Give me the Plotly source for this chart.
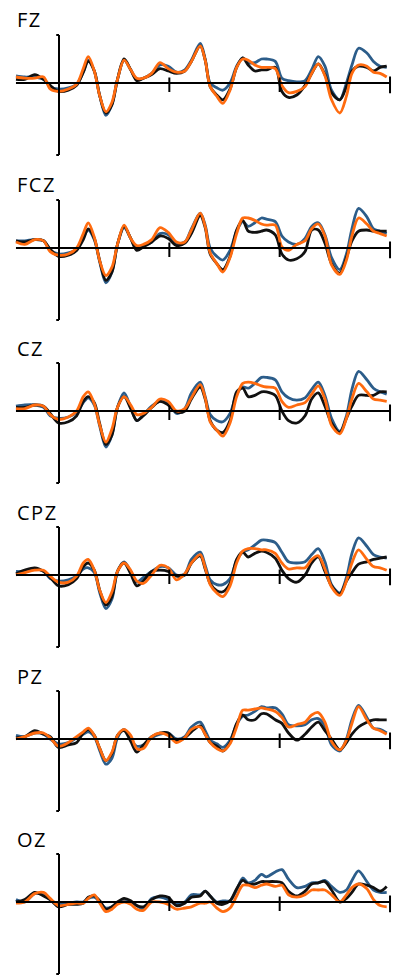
import plotly.graph_objects as go

# time points (ms)
time_ms = [-78, -62, -44, -28, -16, -1, 17, 32, 44, 53, 64, 74, 85, 96, 106, 118, 130, 141, 153, 168,
           183, 198, 213, 228, 240, 256, 265, 274, 286, 297, 310, 322, 333, 343, 355, 367, 376, 392, 404, 416,
           431, 446, 458, 470, 482, 494, 509, 521, 531, 543, 558, 570, 582, 594]

channels = ["FZ", "FCZ", "CZ", "CPZ", "PZ", "OZ"]

FZ_blue = [0.6, 0.5, 0.5, 0.3, -0.3, -0.5, -0.4, -0.1, 0.9, 1.9, 1.0, -1.1, -2.7, -1.8, 0.3, 1.9, 1.1, 0.3, 0.4, 0.8,
           1.5, 1.4, 0.9, 1.1, 1.9, 3.3, 2.0, 0.0, -0.4, -0.6, 0.0, 1.4, 2.1, 1.7, 1.7, 2.0, 2.0, 1.8, 0.4, 0.2,
           0.1, 0.2, 1.1, 2.2, 1.4, -0.6, -1.4, 0.0, 1.5, 2.9, 2.5, 1.8, 1.4, 1.3]
FZ_black = [0.3, 0.3, 0.7, 0.3, -0.2, -0.7, -0.6, -0.2, 0.9, 1.8, 1.0, -1.1, -2.5, -1.8, 0.3, 2.0, 1.1, 0.2, 0.4, 0.7,
            1.2, 1.0, 0.8, 1.0, 1.8, 3.1, 1.9, -0.3, -1.0, -1.4, -0.5, 1.3, 2.1, 1.5, 1.0, 1.1, 1.1, 1.3, -0.7, -1.2,
            -1.0, -0.2, 0.8, 1.6, 0.7, -0.8, -1.4, -0.3, 1.0, 1.4, 1.3, 1.0, 1.3, 1.4]
FZ_orange = [0.5, 0.4, 0.4, 0.5, -0.5, -0.7, -0.5, -0.1, 1.2, 2.2, 1.0, -1.1, -2.4, -1.6, 0.3, 1.9, 1.1, 0.4, 0.4, 0.8,
             1.7, 1.2, 0.9, 1.0, 1.8, 3.1, 1.9, -0.3, -1.1, -1.7, -0.6, 1.3, 2.0, 1.9, 1.5, 1.3, 1.3, 1.2, -0.2, -0.8,
             -0.7, -0.3, 0.8, 1.6, 0.6, -1.4, -2.5, -1.1, 0.8, 1.5, 1.4, 0.9, 0.8, 0.5]

FCZ_blue = [0.6, 0.6, 0.7, 0.6, -0.2, -0.5, -0.4, -0.1, 0.9, 1.5, 0.7, -1.2, -2.9, -2.0, 0.3, 1.7, 0.8, -0.1, 0.2, 0.5,
            1.2, 1.1, 0.4, 0.5, 1.6, 2.9, 1.9, 0.0, -0.7, -1.0, -0.2, 1.4, 2.2, 1.8, 2.1, 2.5, 2.4, 2.2, 1.0, 0.5,
            0.3, 0.8, 1.8, 2.1, 1.1, -0.8, -1.8, -0.5, 1.6, 3.3, 2.6, 1.6, 1.4, 1.2]
FCZ_black = [0.6, 0.5, 0.7, 0.6, -0.1, -0.7, -0.6, -0.2, 0.7, 1.6, 0.8, -1.1, -2.7, -2.0, 0.3, 1.8, 0.8, -0.2, 0.1, 0.5,
             1.0, 0.8, 0.2, 0.4, 1.2, 2.7, 1.7, -0.5, -1.3, -1.8, -0.7, 1.5, 2.3, 1.4, 1.3, 1.4, 1.5, 1.1, -0.5, -1.0,
             -0.9, -0.3, 1.5, 1.5, 0.4, -1.3, -2.1, -0.8, 0.6, 1.4, 1.5, 1.4, 1.4, 1.4]
FCZ_orange = [0.5, 0.3, 0.7, 0.6, -0.3, -0.6, -0.5, 0.0, 1.2, 2.1, 0.9, -1.1, -2.3, -1.6, 0.3, 1.9, 0.8, 0.2, 0.3, 0.7,
              1.7, 1.3, 0.5, 0.5, 1.5, 2.9, 1.8, -0.4, -1.3, -2.0, -0.8, 1.2, 2.5, 2.5, 2.3, 2.0, 1.9, 1.9, 0.1, -0.2,
              0.3, 0.6, 1.6, 2.0, 1.0, -1.4, -2.2, -1.0, 1.0, 2.5, 2.0, 1.4, 1.2, 1.0]

CZ_blue = [0.4, 0.5, 0.5, 0.3, -0.4, -0.6, -0.5, -0.1, 0.7, 1.1, 0.5, -1.3, -3.0, -2.0, 0.3, 1.5, 0.3, -0.8, -0.3, 0.4,
           0.8, 0.7, -0.2, 0.2, 1.5, 2.4, 1.2, -0.3, -0.8, -0.9, -0.2, 1.4, 2.0, 1.9, 2.3, 2.8, 2.8, 2.6, 1.6, 1.1,
           0.9, 1.1, 1.8, 2.4, 1.3, -0.6, -1.7, -0.4, 1.8, 3.3, 2.6, 1.9, 1.6, 1.4]
CZ_black = [0.3, 0.3, 0.5, 0.4, -0.2, -1.0, -0.9, -0.4, 0.8, 1.2, 0.7, -1.1, -2.8, -2.0, 0.3, 1.2, 0.2, -0.8, -0.4, 0.3,
            0.8, 0.5, -0.1, 0.0, 1.0, 2.0, 1.0, -0.8, -1.6, -1.8, -0.8, 1.6, 1.9, 1.2, 1.3, 1.6, 1.6, 1.3, 0.0, -0.8,
            -1.0, -0.4, 1.0, 1.5, 0.4, -1.0, -1.8, -0.6, 0.4, 1.3, 1.3, 1.3, 1.6, 1.6]
CZ_orange = [0.2, 0.2, 0.5, 0.4, -0.3, -0.7, -0.5, 0.0, 1.2, 1.6, 0.6, -1.2, -2.6, -1.5, 0.3, 1.2, 0.5, -0.3, -0.2, 0.3,
             1.0, 0.8, 0.0, 0.2, 1.1, 2.2, 1.1, -0.9, -1.6, -2.1, -1.0, 1.2, 2.3, 2.4, 2.3, 2.1, 2.0, 1.9, 0.8, 0.3,
             0.5, 0.7, 1.4, 2.1, 1.0, -1.2, -1.9, -0.6, 1.0, 2.3, 1.6, 1.0, 0.9, 0.8]

CPZ_blue = [0.3, 0.3, 0.5, 0.3, -0.3, -0.5, -0.4, -0.1, 0.5, 0.6, 0.2, -1.5, -2.8, -2.0, 0.3, 1.1, 0.3, -0.6, -0.2, 0.3,
            0.7, 0.6, 0.0, 0.1, 1.3, 1.9, 0.8, -0.4, -0.8, -0.8, -0.3, 1.2, 1.9, 2.1, 2.5, 2.9, 2.9, 2.7, 1.9, 1.1,
            1.0, 1.1, 1.7, 2.2, 1.1, -0.8, -1.5, -0.2, 1.8, 3.1, 2.4, 1.7, 1.5, 1.4]
CPZ_black = [0.1, 0.4, 0.6, 0.3, -0.2, -0.9, -0.8, -0.3, 0.7, 1.0, 0.4, -1.3, -2.5, -1.8, 0.3, 1.0, 0.1, -0.9, -0.5, 0.3,
             0.4, 0.3, -0.1, 0.0, 1.0, 1.6, 0.5, -0.7, -1.3, -1.4, -0.7, 1.3, 1.9, 1.5, 1.8, 2.0, 1.9, 1.4, 0.4, -0.3,
             -0.6, 0.0, 1.0, 1.5, 0.3, -0.9, -1.6, -0.5, 0.2, 0.9, 1.1, 1.3, 1.4, 1.5]
CPZ_orange = [0.0, 0.2, 0.4, 0.4, -0.1, -0.6, -0.6, -0.1, 1.0, 1.3, 0.4, -1.3, -2.3, -1.4, 0.3, 1.0, 0.4, -0.5, -0.7, 0.0,
              0.8, 0.6, -0.4, 0.1, 1.0, 1.7, 0.6, -0.8, -1.5, -1.8, -0.9, 1.0, 2.0, 2.2, 2.2, 2.1, 2.1, 1.8, 1.0, 0.5,
              0.6, 0.6, 1.3, 1.6, 0.5, -1.0, -1.7, -0.5, 1.0, 2.1, 1.3, 0.7, 0.6, 0.4]

PZ_blue = [0.3, 0.2, 0.5, 0.4, 0.0, -0.4, -0.3, 0.1, 0.4, 0.6, 0.2, -1.0, -2.1, -1.6, 0.1, 0.8, 0.0, -0.6, -0.5, 0.1,
           0.4, 0.5, 0.0, 0.2, 1.0, 1.4, 0.7, -0.1, -0.4, -0.7, -0.1, 1.2, 1.9, 2.0, 2.3, 2.7, 2.6, 2.6, 2.1, 1.2,
           1.1, 1.2, 1.6, 1.7, 1.1, -0.5, -1.0, 0.0, 1.6, 2.8, 1.8, 0.9, 0.8, 0.5]
PZ_black = [0.1, 0.2, 0.7, 0.4, 0.2, -0.7, -0.5, -0.3, 0.5, 0.8, 0.3, -0.8, -1.8, -1.2, 0.3, 0.7, -0.2, -1.1, -0.5, 0.2,
            0.5, 0.5, -0.2, 0.1, 0.6, 1.1, 0.4, -0.3, -0.6, -1.0, -0.3, 1.3, 2.0, 1.6, 1.6, 2.1, 2.1, 1.6, 1.3, 0.5,
            -0.1, 0.4, 1.0, 1.4, 0.7, 0.0, -0.9, -0.3, 0.4, 1.0, 1.4, 1.6, 1.6, 1.6]
PZ_orange = [0.0, 0.2, 0.5, 0.5, 0.1, -0.6, -0.3, 0.2, 0.6, 0.9, 0.3, -0.8, -1.8, -1.1, 0.3, 0.8, 0.3, -0.8, -0.8, 0.2,
             0.5, 0.3, -0.3, 0.1, 0.8, 1.0, 0.4, -0.3, -0.8, -1.0, -0.4, 1.0, 2.4, 2.4, 2.5, 2.6, 2.5, 2.3, 1.8, 1.0,
             1.2, 1.4, 2.0, 2.2, 1.4, -0.2, -0.9, -0.1, 1.3, 2.7, 1.6, 0.9, 0.7, 0.4]

OZ_blue = [0.2, 0.0, 0.7, 0.6, 0.2, -0.2, -0.1, 0.0, 0.0, 0.3, 0.4, 0.0, -0.5, -0.4, -0.1, 0.2, 0.0, -0.3, -0.6, 0.3,
           0.4, 0.2, -0.2, 0.0, 0.6, 0.6, 0.9, 0.5, 0.0, 0.1, 0.1, 1.0, 2.0, 1.6, 1.8, 2.3, 2.1, 2.5, 2.7, 1.9,
           1.2, 1.3, 1.6, 1.6, 1.8, 1.3, 0.8, 1.0, 1.8, 2.6, 1.7, 1.0, 0.8, 0.8]
OZ_black = [0.0, 0.2, 0.8, 0.5, 0.2, -0.4, -0.2, -0.2, -0.1, 0.4, 0.5, 0.1, -0.6, -0.4, 0.0, 0.3, 0.1, -0.3, -0.4, 0.2,
            0.5, 0.4, -0.3, -0.1, 0.4, 0.5, 0.9, 0.5, -0.1, -0.2, 0.1, 1.1, 1.8, 1.5, 1.5, 1.7, 1.7, 1.7, 1.6, 0.9,
            0.5, 0.9, 1.5, 1.6, 1.7, 1.0, 0.0, 0.3, 0.8, 1.5, 1.4, 1.2, 0.9, 1.3]
OZ_orange = [-0.1, 0.0, 0.7, 0.8, 0.3, -0.3, -0.2, -0.1, -0.1, 0.3, 0.6, -0.1, -0.8, -0.6, -0.2, 0.0, -0.2, -0.6, -0.7, 0.0,
             0.0, -0.2, -0.6, -0.5, -0.4, -0.1, -0.1, 0.0, -0.5, -0.8, -0.5, 0.5, 1.4, 1.4, 1.2, 1.4, 1.5, 1.3, 1.4, 0.6,
             0.4, 0.6, 1.0, 1.0, 1.0, 0.6, 0.0, 0.6, 1.2, 1.5, 1.1, 0.2, -0.3, -0.4]

series_by_channel = {
    "FZ": (FZ_blue, FZ_black, FZ_orange),
    "FCZ": (FCZ_blue, FCZ_black, FCZ_orange),
    "CZ": (CZ_blue, CZ_black, CZ_orange),
    "CPZ": (CPZ_blue, CPZ_black, CPZ_orange),
    "PZ": (PZ_blue, PZ_black, PZ_orange),
    "OZ": (OZ_blue, OZ_black, OZ_orange),
}
series_names = ["Condition A", "Condition B", "Condition C"]
series_colors = ["#2c5d8a", "#111111", "#ff6b0f"]

x_ticks = [200, 400, 600]
y_min, y_max = -6, 4

# ---- layout geometry (page pixels; body margin removed by post_script) ----
W, H = 397, 976
baselines_px = [83, 248, 411, 575, 739, 902]
px_per_unit = 12.0
x_range = [-82, 606]
x0_px, ms_px = 59.0, 0.5517
xr_dom = [(x0_px + ms_px * x_range[0]) / W, (x0_px + ms_px * x_range[1]) / W]
y_range = [-6.1, 4.2]

fig = go.Figure()
shapes = []
annotations = []
line_style = dict(color="black", width=2)

for i, ch in enumerate(channels):
    n = i + 1
    xa = "xaxis" if n == 1 else f"xaxis{n}"
    ya = "yaxis" if n == 1 else f"yaxis{n}"
    xref = "x" if n == 1 else f"x{n}"
    yref = "y" if n == 1 else f"y{n}"
    base = baselines_px[i]
    top_px = base - y_range[1] * px_per_unit
    bot_px = base - y_range[0] * px_per_unit
    dom = [max(0.0, 1 - bot_px / H), min(1.0, 1 - top_px / H)]
    fig.layout[xa] = dict(domain=xr_dom, range=x_range, visible=False, anchor=yref)
    fig.layout[ya] = dict(domain=dom, range=y_range, visible=False, anchor=xref)

    for vals, name, col in zip(series_by_channel[ch], series_names, series_colors):
        fig.add_trace(go.Scatter(x=time_ms, y=vals, mode="lines", name=name,
                                 line=dict(color=col, width=2.8, shape="spline", smoothing=0.9),
                                 xaxis=xref, yaxis=yref, showlegend=False))

    # axes drawn as shapes
    shapes.append(dict(type="line", xref=xref, yref=yref, x0=time_ms[0], x1=600, y0=0, y1=0, line=line_style, layer="above"))
    shapes.append(dict(type="line", xref=xref, yref=yref, x0=0, x1=0, y0=y_min, y1=y_max, line=line_style, layer="above"))
    for yy in (y_min, y_max):
        shapes.append(dict(type="line", xref=xref, yref=yref, x0=-5, x1=0, y0=yy, y1=yy, line=line_style, layer="above"))
    for xt in x_ticks:
        up, dn = (0.55, -0.85) if xt == 600 else (0.45, -0.75)
        shapes.append(dict(type="line", xref=xref, yref=yref, x0=xt, x1=xt, y0=up, y1=dn, line=line_style, layer="above"))

    annotations.append(dict(text=f"<span style='letter-spacing:1.5px'>{ch}</span>", xref="paper", yref="paper",
                            x=15 / W, y=1 - (base - 63) / H,
                            xanchor="left", yanchor="middle", showarrow=False,
                            font=dict(family="Open Sans", size=20, color="black")))

fig.update_layout(width=W, height=H, margin=dict(l=0, r=0, t=0, b=0),
                  paper_bgcolor="white", plot_bgcolor="white",
                  shapes=shapes, annotations=annotations, showlegend=False)

fig.write_html("out.html", config={"displayModeBar": False, "staticPlot": True},
               post_script="document.body.style.margin='0px';")
